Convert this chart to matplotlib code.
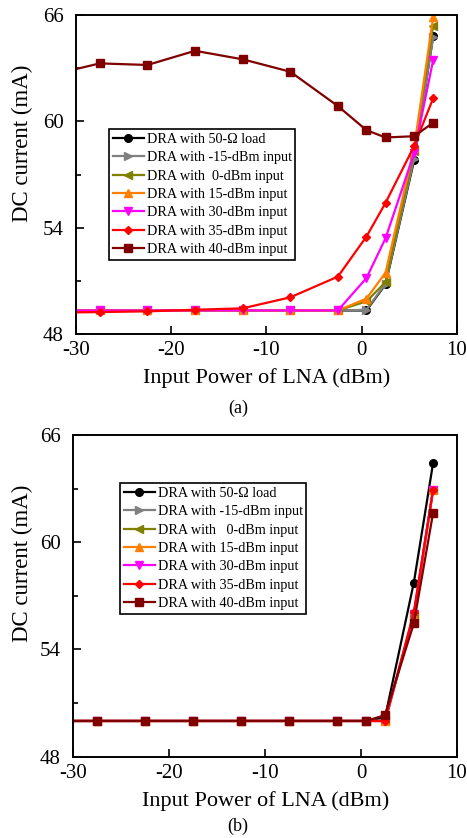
import matplotlib.pyplot as plt
import numpy as np
from matplotlib.ticker import MultipleLocator

plt.rcParams['font.family'] = ['Liberation Serif', 'DejaVu Serif']
plt.rcParams['axes.unicode_minus'] = False

## input power of LNA (dBm), first point lies just left of the axis range
p_in = [-32.5, -27.5, -22.5, -17.5, -12.5, -7.5, -2.5, 0.5, 2.5, 5.5, 7.5]

labels_a = ['DRA with 50-\u03a9 load', 'DRA with -15-dBm input', 'DRA with  0-dBm input',
            'DRA with 15-dBm input', 'DRA with 30-dBm input', 'DRA with 35-dBm input',
            'DRA with 40-dBm input']
labels_b = ['DRA with 50-\u03a9 load', 'DRA with -15-dBm input', 'DRA with   0-dBm input',
            'DRA with 15-dBm input', 'DRA with 30-dBm input', 'DRA with 35-dBm input',
            'DRA with 40-dBm input']
colors = ['black', '#808080', '#808000', '#ff8000', '#ff00ff', '#ff0000', '#800000']
markers = ['o', '>', '<', '^', 'v', 'D', 's']

## (a) DC current (mA)
a_50ohm = [49.33, 49.33, 49.33, 49.33, 49.33, 49.33, 49.33, 49.33, 50.8, 57.8, 64.8]
a_m15 = [49.33, 49.33, 49.33, 49.33, 49.33, 49.33, 49.33, 49.37, 50.84, 57.9, 64.77]
a_0 = [49.33, 49.33, 49.33, 49.33, 49.33, 49.33, 49.33, 49.84, 50.93, 58.3, 65.4]
a_15 = [49.33, 49.33, 49.33, 49.33, 49.33, 49.33, 49.33, 50.0, 51.46, 58.5, 65.87]
a_30 = [49.33, 49.33, 49.33, 49.33, 49.33, 49.33, 49.33, 51.16, 53.4, 58.2, 63.46]
a_35 = [49.2, 49.24, 49.28, 49.37, 49.45, 50.07, 51.24, 53.5, 55.4, 58.6, 61.3]
a_40 = [62.63, 63.27, 63.18, 63.98, 63.5, 62.8, 60.86, 59.5, 59.09, 59.16, 59.92]

## (b) DC current (mA)
b_50ohm = [50.0, 50.0, 50.0, 50.0, 50.0, 50.0, 50.0, 50.0, 50.2, 57.74, 64.41]
b_m15 = [50.0, 50.0, 50.0, 50.0, 50.0, 50.0, 50.0, 50.0, 50.0, 55.9, 62.9]
b_0 = [50.0, 50.0, 50.0, 50.0, 50.0, 50.0, 50.0, 50.0, 50.0, 55.9, 62.9]
b_15 = [50.0, 50.0, 50.0, 50.0, 50.0, 50.0, 50.0, 50.0, 50.0, 55.87, 62.92]
b_30 = [50.0, 50.0, 50.0, 50.0, 50.0, 50.0, 50.0, 50.0, 50.0, 56.0, 62.95]
b_35 = [50.0, 50.0, 50.0, 50.0, 50.0, 50.0, 50.0, 50.0, 50.0, 56.1, 62.92]
b_40 = [50.0, 50.0, 50.0, 50.0, 50.0, 50.0, 50.0, 50.0, 50.33, 55.46, 61.62]

data_a = [a_50ohm, a_m15, a_0, a_15, a_30, a_35, a_40]
data_b = [b_50ohm, b_m15, b_0, b_15, b_30, b_35, b_40]

fig = plt.figure(figsize=(4.67, 8.38), dpi=100)
ax1 = fig.add_axes([0.1627, 0.6014, 0.8158, 0.3807])
ax2 = fig.add_axes([0.157, 0.097, 0.8216, 0.3839])


def draw(ax, data, labels, legend_pos, ylab_pos):
    for y, lab, c, m in zip(data, labels, colors, markers):
        ms = 4.5 if m == 'D' else 5.5
        ax.plot(p_in, y, color=c, marker=m, markersize=ms, linewidth=1.6, label=lab)
    ax.set_xlim(-30, 10)
    ax.set_ylim(48, 66)
    ax.xaxis.set_major_locator(MultipleLocator(10))
    ax.yaxis.set_major_locator(MultipleLocator(6))
    ax.yaxis.set_minor_locator(MultipleLocator(3))
    ax.tick_params(which='both', direction='in', top=False, right=False, labelsize=15)
    ax.tick_params(which='major', length=6, width=1.2)
    ax.tick_params(which='minor', length=3.5, width=1.2)
    ax.tick_params(axis='x', pad=5)
    ax.tick_params(axis='y', pad=9)
    for sp in ax.spines.values():
        sp.set_linewidth(1.4)
    ax.set_xlabel('Input Power of LNA (dBm)', fontsize=16, labelpad=6)
    ax.set_ylabel('DC current (mA)', fontsize=16.5)
    ax.yaxis.set_label_coords(*ylab_pos)
    leg = ax.legend(loc='upper left', bbox_to_anchor=legend_pos, fontsize=10.2,
                    frameon=True, fancybox=False, edgecolor='black', framealpha=1,
                    handlelength=2.2, handletextpad=0.2, labelspacing=0.38,
                    borderpad=0.25, borderaxespad=0)
    leg.get_frame().set_linewidth(1.2)


draw(ax1, data_a, labels_a, (0.087, 0.642), (-0.113, 0.599))
draw(ax2, data_b, labels_b, (0.122, 0.850), (-0.105, 0.602))

fig.text(238 / 467, 1 - 400 / 838, '(a)', ha='center', va='top', fontsize=13)
fig.text(238 / 467, 1 - 818 / 838, '(b)', ha='center', va='top', fontsize=13)

plt.savefig('out.png', dpi=100)
